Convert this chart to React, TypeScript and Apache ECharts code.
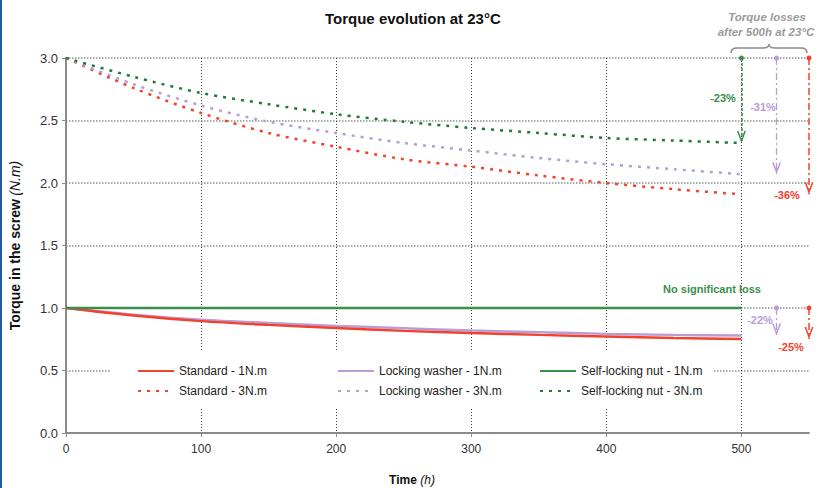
import React, { useEffect, useRef } from "react";
import * as echarts from "echarts";

// ---- data ----
const TIME_H = [0, 50, 100, 150, 200, 250, 300, 350, 400, 450, 500];
const STANDARD_1NM = [1.0, 0.94, 0.895, 0.865, 0.84, 0.817, 0.8, 0.785, 0.772, 0.76, 0.752];
const WASHER_1NM = [1.0, 0.947, 0.906, 0.88, 0.857, 0.838, 0.82, 0.806, 0.793, 0.785, 0.78];
const NUT_1NM = [1.0, 1.0, 1.0, 1.0, 1.0, 1.0, 1.0, 1.0, 1.0, 1.0, 1.0];
const STANDARD_3NM = [3.0, 2.76, 2.56, 2.4, 2.29, 2.19, 2.13, 2.06, 2.0, 1.95, 1.91];
const WASHER_3NM = [3.0, 2.79, 2.62, 2.49, 2.4, 2.32, 2.26, 2.2, 2.15, 2.11, 2.07];
const NUT_3NM = [3.0, 2.85, 2.72, 2.63, 2.55, 2.49, 2.44, 2.4, 2.36, 2.34, 2.32];
const SERIES_NAMES = [
  "Standard - 1N.m",
  "Locking washer - 1N.m",
  "Self-locking nut - 1N.m",
  "Standard - 3N.m",
  "Locking washer - 3N.m",
  "Self-locking nut - 3N.m",
];
const ARROW_X = [500, 526, 550]; // nut, washer, standard annotation positions (h)

const FONT = "'Liberation Sans', Arial, sans-serif";
const RED = "#f4412c";
const PURPLE = "#b89cd8";
const GREEN = "#3a8f4a";
const GREEN_D = "#1f7a3a";
// open "V" arrowhead pointing down
const CHEVRON = "path://M0,0 L5,12 L10,0 L8.2,0 L5,8 L1.8,0 Z";

echarts.graphic.registerShape(
  "brace",
  echarts.graphic.extendPath(
    "M0,9 C0,5 2,4 6,4 L32,4 C36,4 38,3 38,0 C38,3 40,4 44,4 L70,4 C74,4 76,5 76,9",
    {}
  )
);

const pairs = (vals: number[]) => TIME_H.map((t, i) => [t, vals[i]]);
const last = (vals: number[]) => vals[vals.length - 1];
const pct = (vals: number[]) =>
  Math.round(((last(vals) - vals[0]) / vals[0]) * 100) + "%";

const arrowLine = (x: number, from: number, to: number, color: string, dash: any, w = 1.5) => ({
  silent: true,
  animation: false,
  symbol: ["circle", "none"],
  symbolSize: 5,
  label: { show: false },
  emphasis: { disabled: true },
  lineStyle: { color, width: w, type: dash, opacity: 1 },
  data: [[{ coord: [x, from] }, { coord: [x, to] }]],
});
const arrowHead = (x: number, to: number, color: string) => ({
  silent: true,
  animation: false,
  symbol: CHEVRON,
  symbolSize: [9, 12],
  symbolOffset: [0, -6],
  symbolKeepAspect: false,
  label: { show: false },
  emphasis: { disabled: true },
  itemStyle: { color },
  data: [{ coord: [x, to] }],
});

export default function App() {
  const ref = useRef<HTMLDivElement>(null);
  useEffect(() => {
    document.body.style.margin = "0";
    const chart = echarts.init(ref.current!, null, { renderer: "svg" });
    const DOT = [3, 6];
    const legendBase = {
      orient: "vertical",
      top: 360,
      itemGap: 8,
      itemWidth: 36,
      itemHeight: 14,
      selectedMode: false,
      itemStyle: { opacity: 0 },
      textStyle: { fontSize: 12, color: "#222", fontFamily: FONT },
    };
    const txt = (text: string, x: number, y: number, fill: string, font = `bold 11px ${FONT}`) => ({
      type: "text",
      x,
      y,
      silent: true,
      style: { text, fill, font, align: "center", verticalAlign: "middle" },
    });
    chart.setOption({
      animation: false,
      textStyle: { fontFamily: FONT },
      title: {
        text: "Torque evolution at 23°C",
        left: 320,
        top: 6,
        textStyle: { fontSize: 15, fontWeight: "bold", color: "#111", fontFamily: FONT },
      },
      grid: { left: 65, right: 10, top: 58, bottom: 55, containLabel: false },
      legend: [
        { ...legendBase, left: 132, data: [SERIES_NAMES[0], SERIES_NAMES[3]] },
        { ...legendBase, left: 332, data: [SERIES_NAMES[1], SERIES_NAMES[4]] },
        { ...legendBase, left: 534, data: [SERIES_NAMES[2], SERIES_NAMES[5]] },
      ],
      xAxis: {
        type: "value",
        min: 0,
        max: 550,
        interval: 100,
        axisLine: { show: true, lineStyle: { color: "#8a8a8a", width: 2 } },
        axisTick: { show: true, length: 4, lineStyle: { color: "#8a8a8a" } },
        axisLabel: { showMaxLabel: false, fontSize: 12, color: "#333", margin: 10, fontFamily: FONT },
        splitLine: {
          show: true,
          showMinLine: false,
          showMaxLine: false,
          lineStyle: { color: "#444", type: [1, 2], width: 1 },
        },
      },
      yAxis: {
        type: "value",
        min: 0,
        max: 3,
        interval: 0.5,
        name: "{b|Torque in the screw} {i|(N.m)}",
        nameLocation: "middle",
        nameGap: 44,
        nameTextStyle: {
          rich: {
            b: { fontWeight: "bold", fontSize: 14, color: "#111", fontFamily: FONT },
            i: { fontStyle: "italic", fontSize: 14, color: "#111", fontFamily: FONT },
          },
        },
        axisLine: { show: true, lineStyle: { color: "#8a8a8a", width: 2 } },
        axisTick: { show: true, length: 4, lineStyle: { color: "#8a8a8a" } },
        axisLabel: {
          fontSize: 13,
          color: "#333",
          margin: 8,
          fontFamily: FONT,
          formatter: (v: number) => v.toFixed(1),
        },
        splitLine: {
          show: true,
          showMinLine: false,
          lineStyle: { color: "#8f8f8f", type: [1.5, 1.5], width: 1.5 },
        },
      },
      series: [
        {
          name: SERIES_NAMES[0],
          type: "line",
          data: pairs(STANDARD_1NM),
          symbol: "none",
          smooth: 0.3,
          z: 3,
          itemStyle: { color: RED },
          lineStyle: { color: RED, width: 2.5 },
          markLine: arrowLine(ARROW_X[2], STANDARD_1NM[0], last(STANDARD_1NM), RED, [7, 3, 2, 3]),
          markPoint: arrowHead(ARROW_X[2], last(STANDARD_1NM), RED),
        },
        {
          name: SERIES_NAMES[1],
          type: "line",
          data: pairs(WASHER_1NM),
          symbol: "none",
          smooth: 0.3,
          z: 2,
          itemStyle: { color: PURPLE },
          lineStyle: { color: PURPLE, width: 2.5 },
          markLine: arrowLine(ARROW_X[1], WASHER_1NM[0], last(WASHER_1NM), PURPLE, [7, 3, 2, 3], 1.3),
          markPoint: arrowHead(ARROW_X[1], last(WASHER_1NM), PURPLE),
        },
        {
          name: SERIES_NAMES[2],
          type: "line",
          data: pairs(NUT_1NM),
          symbol: "none",
          z: 3,
          itemStyle: { color: GREEN },
          lineStyle: { color: GREEN, width: 2.5 },
        },
        {
          name: SERIES_NAMES[3],
          type: "line",
          data: pairs(STANDARD_3NM),
          symbol: "none",
          smooth: 0.3,
          itemStyle: { color: RED },
          lineStyle: { color: RED, width: 2.5, type: DOT },
          markLine: arrowLine(ARROW_X[2], STANDARD_3NM[0], last(STANDARD_3NM), RED, [7, 3, 2, 3]),
          markPoint: arrowHead(ARROW_X[2], last(STANDARD_3NM), RED),
        },
        {
          name: SERIES_NAMES[4],
          type: "line",
          data: pairs(WASHER_3NM),
          symbol: "none",
          smooth: 0.3,
          itemStyle: { color: PURPLE },
          lineStyle: { color: PURPLE, width: 2.5, type: DOT },
          markLine: arrowLine(ARROW_X[1], WASHER_3NM[0], last(WASHER_3NM), PURPLE, [7, 3, 2, 3], 1.3),
          markPoint: arrowHead(ARROW_X[1], last(WASHER_3NM), PURPLE),
        },
        {
          name: SERIES_NAMES[5],
          type: "line",
          data: pairs(NUT_3NM),
          symbol: "none",
          smooth: 0.3,
          itemStyle: { color: GREEN_D },
          lineStyle: { color: GREEN_D, width: 2.5, type: DOT },
          markLine: arrowLine(ARROW_X[0], NUT_3NM[0], last(NUT_3NM), GREEN, [3, 2], 1.5),
          markPoint: arrowHead(ARROW_X[0], last(NUT_3NM), GREEN),
        },
      ],
      graphic: [
        {
          type: "rect",
          z: 1,
          silent: true,
          shape: { x: 110, y: 350, width: 603, height: 57 },
          style: { fill: "#ffffff" },
        },
        txt("Torque losses", 767, 17, "#9a9a9a", `italic bold 11.5px ${FONT}`),
        txt("after 500h at 23°C", 766, 32, "#9a9a9a", `italic bold 11.5px ${FONT}`),
        {
          type: "brace",
          x: 731,
          y: 44,
          silent: true,
          style: { stroke: "#8c8c8c", lineWidth: 1.5, fill: null },
        },
        txt(pct(NUT_3NM), 723, 98, GREEN),
        txt(pct(WASHER_3NM), 763, 107, PURPLE),
        txt(pct(STANDARD_3NM), 787, 195, RED),
        txt("No significant loss", 712, 289, GREEN),
        txt(pct(WASHER_1NM), 760, 320, PURPLE),
        txt(pct(STANDARD_1NM), 791, 347, RED),
        {
          type: "text",
          x: 412,
          y: 480,
          silent: true,
          style: {
            text: "{b|Time} {i|(h)}",
            align: "center",
            verticalAlign: "middle",
            rich: {
              b: { fontWeight: "bold", fontSize: 12, fill: "#111", fontFamily: FONT },
              i: { fontStyle: "italic", fontSize: 12, fill: "#111", fontFamily: FONT },
            },
          },
        },
      ],
    });
    return () => chart.dispose();
  }, []);
  return (
    <div style={{ position: "fixed", left: 0, top: 0, width: 819, height: 488, background: "#fff" }}>
      <div ref={ref} style={{ width: 819, height: 488 }} />
      <div style={{ position: "absolute", left: 0, top: 0, width: 2, height: 488, background: "#1f5b9e" }} />
    </div>
  );
}
